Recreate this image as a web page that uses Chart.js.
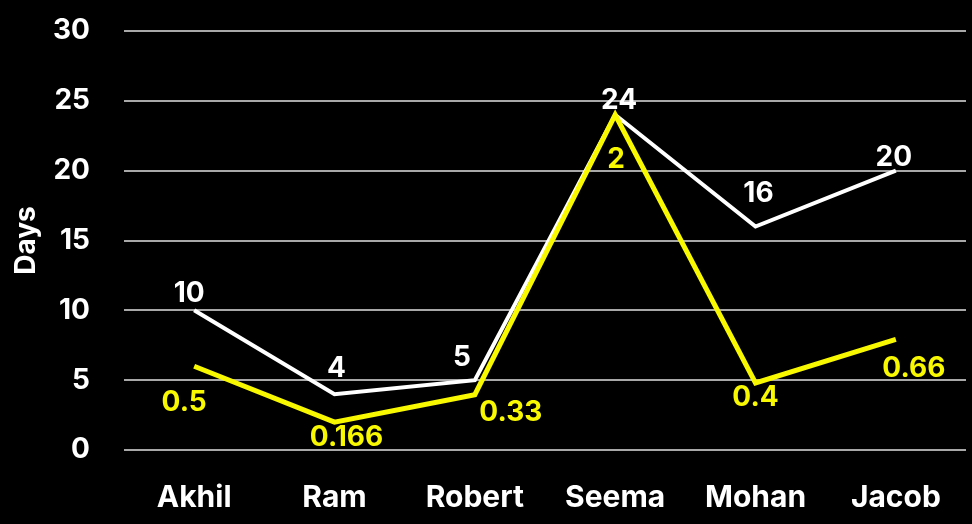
<!DOCTYPE html>
<html>
<head>
<meta charset="utf-8">
<script src="https://cdn.jsdelivr.net/npm/chart.js@4"></script>
<style>
  html, body { margin: 0; padding: 0; background: #000; }
  #wrap { width: 972px; height: 524px; }
</style>
</head>
<body>
<div id="wrap"><canvas id="c" width="972" height="524"></canvas></div>
<script>
// Names along the x axis
const categories = ['Akhil', 'Ram', 'Robert', 'Seema', 'Mohan', 'Jacob'];
// Days each person takes to finish the work
const daysTaken = [10, 4, 5, 24, 16, 20];
// Work done per day (fraction of the job), drawn on its own hidden scale
const workPerDay = [0.5, 0.166, 0.33, 2, 0.4, 0.66];
// Tick labels on the Days axis
const dayTicks = [0, 5, 10, 15, 20, 25, 30];

const FONT = 'Inter, Lato, sans-serif';
const YELLOW = '#f8f800';

// Nudges [dx, dy] for each value label so none sits on a line
const labelNudge = {
  above: [[-5, -8], [2, -17], [-13, -14], [4, -6], [3, -25], [-2, -5]],
  below: [[-10, 22], [12, 1], [36, 4], [1, 31], [0, 1], [18, 15]]
};

const labelPlugin = {
  id: 'pointLabels',
  afterDatasetsDraw(chart) {
    const ctx = chart.ctx;
    ctx.save();
    ctx.font = '700 28px ' + FONT;
    ctx.textAlign = 'center';
    chart.data.datasets.forEach((ds, di) => {
      const meta = chart.getDatasetMeta(di);
      const nudge = labelNudge[ds.labelSide];
      meta.data.forEach((pt, i) => {
        const [dx, dy] = nudge[i];
        ctx.textBaseline = ds.labelSide === 'above' ? 'alphabetic' : 'top';
        ctx.fillStyle = ds.labelColor;
        ctx.fillText(String(ds.data[i]), pt.x + dx, pt.y + dy);
      });
    });
    ctx.restore();
  }
};

const blackBg = {
  id: 'blackBg',
  beforeDraw(chart) {
    const ctx = chart.ctx;
    ctx.save();
    ctx.fillStyle = '#000';
    ctx.fillRect(0, 0, chart.width, chart.height);
    ctx.restore();
  }
};

new Chart(document.getElementById('c'), {
  type: 'line',
  data: {
    labels: categories,
    datasets: [
      {
        label: 'Days',
        data: daysTaken,
        yAxisID: 'y',
        borderColor: '#ffffff',
        borderWidth: 4,
        pointRadius: 0,
        tension: 0,
        order: 1,
        labelSide: 'above',
        labelColor: '#ffffff'
      },
      {
        label: 'Work per day',
        data: workPerDay,
        yAxisID: 'y2',
        borderColor: YELLOW,
        borderWidth: 5,
        pointRadius: 0,
        tension: 0,
        order: 0,
        labelSide: 'below',
        labelColor: YELLOW
      }
    ]
  },
  options: {
    responsive: false,
    animation: false,
    devicePixelRatio: 1,
    layout: { padding: { top: 31, right: 6, left: 0, bottom: 0 } },
    plugins: { legend: { display: false }, tooltip: { enabled: false } },
    scales: {
      x: {
        offset: true,
        grid: { display: false, drawTicks: false },
        border: { display: false },
        ticks: {
          color: '#ffffff',
          font: { family: FONT, size: 30, weight: '700' },
          padding: 30,
          maxRotation: 0
        },
        afterFit(scale) { scale.height = 74; }
      },
      y: {
        min: 0,
        max: 30,
        afterBuildTicks(scale) { scale.ticks = dayTicks.map(v => ({ value: v })); },
        grid: { color: '#a8a8a8', lineWidth: 2, drawTicks: false },
        border: { display: false },
        ticks: {
          color: '#ffffff',
          font: { family: FONT, size: 28, weight: '700' },
          padding: 34
        },
        title: {
          display: true,
          text: 'Days',
          color: '#ffffff',
          font: { family: FONT, size: 28, weight: '700' },
          padding: { top: 10, bottom: 0 }
        },
        afterFit(scale) {
          scale.width = 124;
          scale.paddingTop = 0;
          scale.paddingBottom = 0;
        }
      },
      y2: {
        display: false,
        min: 0,
        max: 2.5
      }
    }
  },
  plugins: [blackBg, labelPlugin]
});
</script>
</body>
</html>
